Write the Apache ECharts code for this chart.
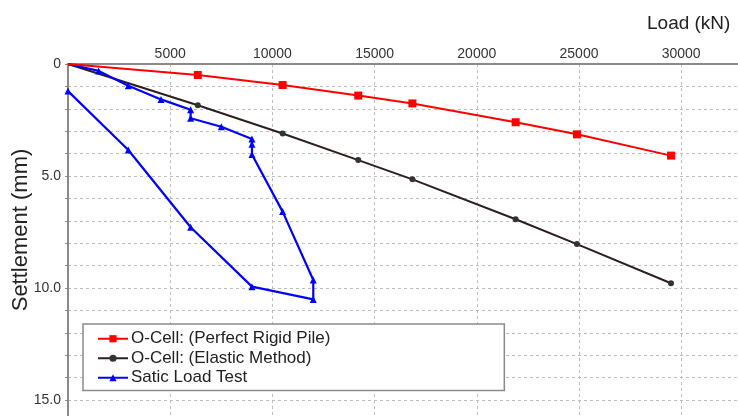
<!DOCTYPE html>
<html>
<head>
<meta charset="utf-8">
<script src="https://cdn.jsdelivr.net/npm/echarts@6/dist/echarts.min.js"></script>
<style>
  html, body { margin: 0; padding: 0; background: #fff; }
  #chart { width: 738px; height: 416px; }
</style>
</head>
<body>
<div id="chart"></div>
<script>
// O-Cell load tests: load (kN) against settlement (mm)
const ocellLoads = [0, 6350, 10500, 14200, 16850, 21900, 24900, 29500];
const rigidPileSettlement = [0, 0.49, 0.94, 1.41, 1.76, 2.60, 3.14, 4.09];
const elasticSettlement = [0, 1.84, 3.10, 4.29, 5.15, 6.93, 8.04, 9.79];

// Static load test: loading then unloading loop
const staticLoads = [0, 1500, 2950, 4550, 6000, 6000, 7500, 9000, 9000, 9000, 10500, 12000, 12000, 9000, 6000, 2950, 0];
const staticSettlement = [0, 0.31, 0.97, 1.58, 2.04, 2.42, 2.80, 3.35, 3.58, 4.04, 6.59, 9.64, 10.51, 9.94, 7.29, 3.84, 1.21];

const seriesNames = ['O-Cell: (Perfect Rigid Pile)', 'O-Cell: (Elastic Method)', 'Satic Load Test'];
const loadTicks = [5000, 10000, 15000, 20000, 25000, 30000];
const settlementTicks = [0, 5, 10, 15];

function pairs(xs, ys, hideFirst) {
  return xs.map((x, i) => {
    const item = { value: [x, ys[i]] };
    if (hideFirst && i === 0) item.symbolSize = 0;
    return item;
  });
}

const chart = echarts.init(document.getElementById('chart'), null, { renderer: 'canvas' });
const font = 'Liberation Sans, Arial, sans-serif';

chart.setOption({
  animation: false,
  backgroundColor: '#ffffff',
  textStyle: { fontFamily: font },
  // plot area runs a little past the right and bottom edges of the canvas
  grid: { left: 68, top: 64, width: 674.5, height: 358.4, containLabel: false, outerBoundsMode: 'none' },
  xAxis: {
    type: 'value',
    position: 'top',
    min: 0,
    max: 33000,
    interval: 5000,
    axisLine: { show: true, onZero: false, lineStyle: { color: '#8a8a8a', width: 2 } },
    axisTick: { show: false },
    axisLabel: {
      color: '#333', fontSize: 14, fontFamily: font, margin: 3,
      formatter: v => (loadTicks.includes(v) ? String(v) : '')
    },
    splitLine: { show: true, lineStyle: { color: '#bdbdbd', type: [3, 3], width: 1 } }
  },
  yAxis: {
    type: 'value',
    inverse: true,
    min: 0,
    max: 16,
    interval: 1,
    axisLine: { show: true, onZero: false, lineStyle: { color: '#8a8a8a', width: 2 } },
    axisTick: { show: true, length: 3, lineStyle: { color: '#8a8a8a' } },
    axisLabel: {
      color: '#333', fontSize: 14, fontFamily: font, margin: 7,
      formatter: v => (settlementTicks.includes(v) ? (v === 0 ? '0' : v.toFixed(1)) : '')
    },
    splitLine: { show: true, lineStyle: { color: '#bdbdbd', type: [3, 3], width: 1 } }
  },
  legend: {
    orient: 'vertical',
    left: 83,
    top: 324,
    data: seriesNames,
    itemWidth: 30,
    itemHeight: 9,
    itemGap: 0,
    padding: [5, 174, 3, 14],
    borderColor: '#8a8a8a',
    borderWidth: 1.5,
    backgroundColor: '#ffffff',
    textStyle: { color: '#222', fontSize: 17, fontFamily: font, lineHeight: 19.5, padding: [0, 0, 0, -2] }
  },
  graphic: [
    {
      type: 'text',
      left: 647, top: 14,
      style: { text: 'Load (kN)', fill: '#222', font: '19px ' + font }
    },
    {
      type: 'text',
      x: 21, y: 230,
      rotation: Math.PI / 2,
      style: { text: 'Settlement (mm)', fill: '#222', font: '22px ' + font, align: 'center', verticalAlign: 'middle' }
    }
  ],
  series: [
    {
      name: seriesNames[1],
      type: 'line',
      data: pairs(ocellLoads, elasticSettlement, true),
      symbol: 'circle',
      symbolSize: 6,
      color: '#2e1f1f',
      lineStyle: { color: '#2e1f1f', width: 2 },
      itemStyle: { color: '#333333' },
      z: 2
    },
    {
      name: seriesNames[2],
      type: 'line',
      data: pairs(staticLoads, staticSettlement, true),
      symbol: 'triangle',
      symbolSize: 7,
      color: '#0000ff',
      lineStyle: { color: '#0000ff', width: 2.2 },
      itemStyle: { color: '#0000ff' },
      z: 3
    },
    {
      name: seriesNames[0],
      type: 'line',
      data: pairs(ocellLoads, rigidPileSettlement, true),
      symbol: 'rect',
      symbolSize: 8,
      color: '#ff0000',
      lineStyle: { color: '#ff0000', width: 2 },
      itemStyle: { color: '#ff0000' },
      z: 4
    }
  ]
});
</script>
</body>
</html>
